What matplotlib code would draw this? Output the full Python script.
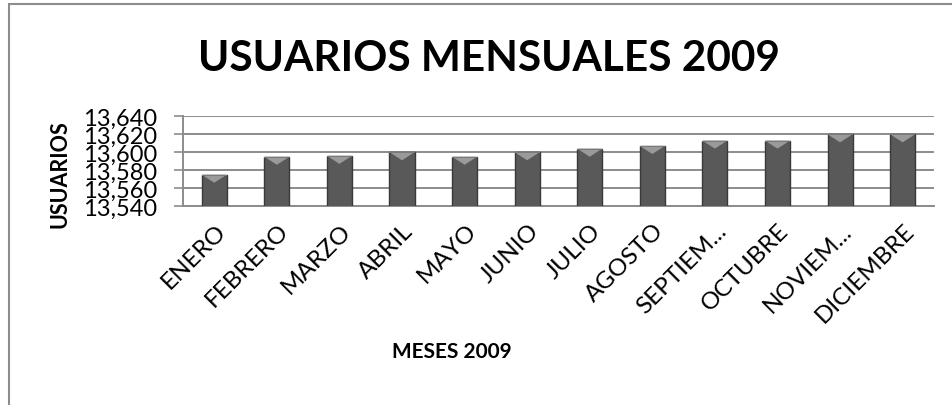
import numpy as np
import matplotlib
matplotlib.use("Agg")
import matplotlib.pyplot as plt
import matplotlib.transforms as mtransforms
from matplotlib.patches import Rectangle

# Data
meses = ["ENERO", "FEBRERO", "MARZO", "ABRIL", "MAYO", "JUNIO", "JULIO",
         "AGOSTO", "SEPTIEM...", "OCTUBRE", "NOVIEM...", "DICIEMBRE"]
usuarios = [13575, 13595, 13596, 13600, 13595, 13600, 13604,
            13607, 13613, 13613, 13620, 13620]
y_ticks = [13540, 13560, 13580, 13600, 13620, 13640]

plt.rcParams["font.family"] = ["Lato", "DejaVu Sans"]

fig = plt.figure(figsize=(9.53, 4.06), dpi=100)
ax = fig.add_axes([0.192, 0.490, 0.788, 0.221])

x = np.arange(len(meses))
width = 0.40
ax.bar(x, usuarios, width=width, bottom=0, color="#595959",
       edgecolor="#3a3a3a", linewidth=1.0, zorder=3)

# bevel on top of each bar (light V shape)
bevel = 9
for xi, v in zip(x, usuarios):
    ax.fill([xi - width / 2, xi + width / 2, xi], [v, v, v - bevel],
            color="#9a9a9a", zorder=4, linewidth=0)
    ax.fill([xi - width / 2, xi + width / 2, xi + width / 2, xi - width / 2],
            [v, v, v - 1.2, v - 1.2], color="#7a7a7a", zorder=4, linewidth=0)

ax.set_ylim(13540, 13640)
ax.set_xlim(-0.5, len(meses) - 0.5)
ax.set_yticks(y_ticks)
ax.set_yticklabels([f"{t:,}" for t in y_ticks], fontsize=17)
ax.yaxis.grid(True, color="#8c8c8c", linewidth=1.4, zorder=0)
ax.set_axisbelow(True)

ax.set_xticks(x)
ax.set_xticklabels(meses, rotation=45, ha="right", va="center",
                   rotation_mode="anchor", fontsize=17.5)
ax.tick_params(axis="x", length=0, pad=15)
ax.tick_params(axis="y", length=6.5, width=1.2, color="#8c8c8c", pad=12)
shift = mtransforms.ScaledTranslation(8 / 100, 0, fig.dpi_scale_trans)
for lab in ax.get_xticklabels():
    lab.set_transform(lab.get_transform() + shift)

for side in ["top", "right"]:
    ax.spines[side].set_visible(False)
for side in ["left", "bottom"]:
    ax.spines[side].set_color("#8c8c8c")
    ax.spines[side].set_linewidth(1.4)

fig.text(0.513, 0.855, "USUARIOS MENSUALES 2009", ha="center", va="center",
         fontsize=30.5, fontweight="bold")
fig.text(0.474, 0.133, "MESES 2009", ha="center", va="center",
         fontsize=15, fontweight="bold")
fig.text(0.063, 0.57, "USUARIOS", ha="center", va="center", rotation=90,
         fontsize=15.5, fontweight="bold")

# chart frame
fig.add_artist(Rectangle((9 / 953, -0.2), 1.2, 1.2 - 5 / 406,
                         transform=fig.transFigure, fill=False,
                         edgecolor="#8c8c8c", linewidth=1.5))

fig.savefig("out.png", dpi=100)
